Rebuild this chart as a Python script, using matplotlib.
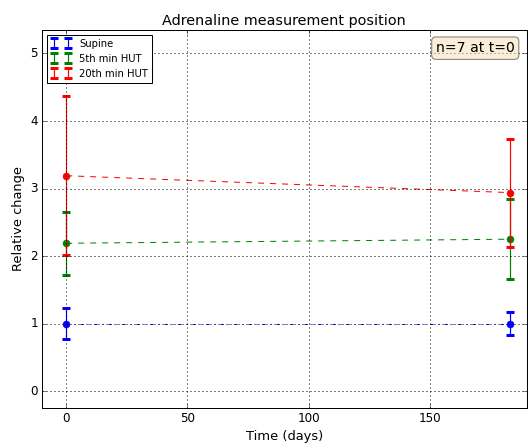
import numpy as np
import matplotlib
matplotlib.use("Agg")
import matplotlib.pyplot as plt

plt.style.use("classic")

days = [0, 183]
positions = ["Supine", "5th min HUT", "20th min HUT"]
means = {
    "Supine": [1.0, 1.0],
    "5th min HUT": [2.19, 2.25],
    "20th min HUT": [3.19, 2.94],
}
errors = {
    "Supine": [0.23, 0.17],
    "5th min HUT": [0.47, 0.59],
    "20th min HUT": [1.18, 0.80],
}
colors = ["b", "g", "r"]
linestyles = ["-.", "--", "--"]

my_dpi = 72
fig = plt.figure(figsize=(531 / my_dpi, 445 / my_dpi), dpi=my_dpi, facecolor="white")
ax = fig.add_axes([0.079, 0.083, 0.913, 0.85])

for pos, c, ls in zip(positions, colors, linestyles):
    ax.errorbar(days, means[pos], yerr=errors[pos], color=c, fmt="none",
                ecolor=c, capsize=4, capthick=3, elinewidth=1.2, label=pos)
    ax.plot(days, means[pos], color=c, marker="o", ms=7, mec=c,
            linestyle=ls, linewidth=1)

ax.set_xlim(-10, 190)
ax.set_ylim(-0.25, 5.35)
ax.set_xticks([0, 50, 100, 150])
ax.grid(True, color="k", linestyle=":", linewidth=1)
ax.set_xlabel("Time (days)", fontsize=13)
ax.set_ylabel("Relative change", fontsize=13)
ax.set_title("Adrenaline measurement position")
ax.legend(loc="upper left", fontsize="small", numpoints=2)
ax.text(0.975, 0.97, "n=7 at t=0", transform=ax.transAxes, fontsize=14,
        ha="right", va="top",
        bbox=dict(boxstyle="round", facecolor="wheat", alpha=0.5))

fig.savefig("out.png", dpi=my_dpi, facecolor="white")
